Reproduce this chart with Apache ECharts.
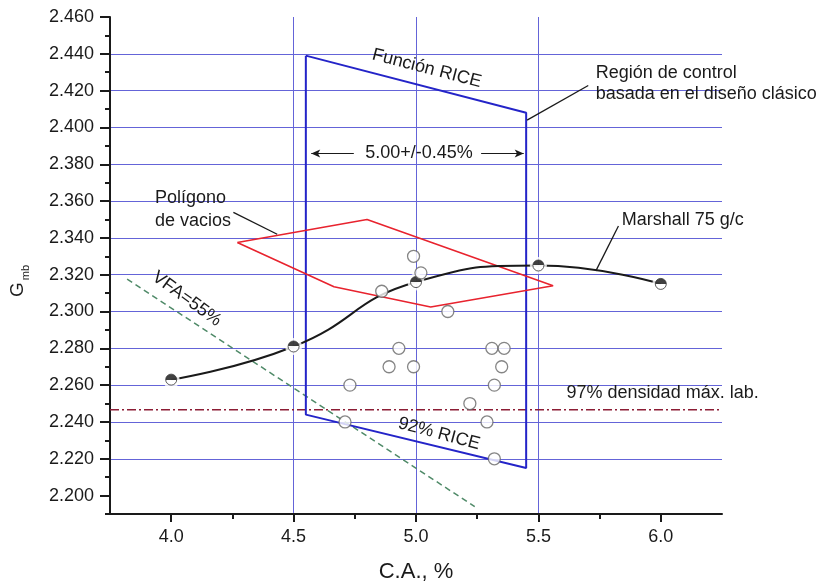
<!DOCTYPE html>
<html>
<head>
<meta charset="utf-8">
<title>Gmb vs C.A.</title>
<script src="https://cdn.jsdelivr.net/npm/echarts@6/dist/echarts.min.js"></script>
<style>
  html, body { margin: 0; padding: 0; background: #fff; }
  #chart { width: 827px; height: 588px; }
</style>
</head>
<body>
<div id="chart"></div>
<script>
// ejes
const xTicks = [4.0, 4.5, 5.0, 5.5, 6.0];
const yTicks = [2.20, 2.22, 2.24, 2.26, 2.28, 2.30, 2.32, 2.34, 2.36, 2.38, 2.40, 2.42, 2.44, 2.46];

// curva Marshall 75 golpes/cara
const marshallCA = [4.0, 4.5, 5.0, 5.5, 6.0];
const marshallGmb = [2.263, 2.281, 2.316, 2.325, 2.315];

// probetas (circulos abiertos)
const probetaCA = [4.99, 5.02, 4.86, 5.13, 4.93, 5.31, 5.36, 4.89, 4.99, 5.35, 4.73, 5.32, 5.22, 4.71, 5.29, 5.32];
const probetaGmb = [2.330, 2.321, 2.311, 2.300, 2.280, 2.280, 2.280, 2.270, 2.270, 2.270, 2.260, 2.260, 2.250, 2.240, 2.240, 2.220];

// region de control RICE (cerrada)
const riceCA = [4.55, 5.45, 5.45, 4.55, 4.55];
const riceGmb = [2.439, 2.408, 2.215, 2.244, 2.439];

// poligono de vacios (cerrado)
const vaciosCA = [4.27, 4.80, 5.56, 5.06, 4.665, 4.27];
const vaciosGmb = [2.3375, 2.350, 2.314, 2.3025, 2.3135, 2.3375];

// VFA = 55%
const vfaCA = [3.82, 5.24];
const vfaGmb = [2.3176, 2.194];

// 97% densidad max. lab.
const dens97CA = [3.75, 6.24];
const dens97Gmb = [2.2466, 2.2466];

const zip = (xs, ys) => xs.map((x, i) => [x, ys[i]]);
const FONT = "'Liberation Sans', Arial, Helvetica, sans-serif";
const INK = '#1a1a1a';

var myChart = echarts.init(document.getElementById('chart'));

const option = {
    animation: false,
    backgroundColor: '#fff',
    grid: { left: 110, right: 105, top: 17, bottom: 73 },
    xAxis: {
        type: 'value',
        min: 3.75,
        max: 6.25,
        name: 'C.A., %',
        nameLocation: 'middle',
        nameGap: 47,
        nameTextStyle: { fontSize: 22, color: INK, fontFamily: FONT },
        axisLine: { show: true, onZero: false, lineStyle: { color: INK, width: 2 } },
        axisTick: { show: true, length: 8, customValues: xTicks, lineStyle: { color: INK, width: 2 } },
        minorTick: { show: true, splitNumber: 2, length: 5, lineStyle: { color: INK, width: 2 } },
        axisLabel: {
            customValues: xTicks,
            margin: 14,
            fontSize: 18,
            color: INK,
            fontFamily: FONT,
            formatter: v => Number(v).toFixed(1)
        },
        splitLine: { show: true, showMinLine: false, showMaxLine: false, lineStyle: { color: '#6464d8', width: 1 } }
    },
    yAxis: {
        type: 'value',
        min: 2.19,
        max: 2.46,
        splitNumber: 13,
        axisLine: { show: true, onZero: false, lineStyle: { color: INK, width: 2 } },
        axisTick: { show: true, length: 10, customValues: yTicks, lineStyle: { color: INK, width: 2 } },
        minorTick: { show: true, splitNumber: 2, length: 5, lineStyle: { color: INK, width: 2 } },
        axisLabel: {
            customValues: yTicks,
            margin: 16,
            fontSize: 18,
            color: INK,
            fontFamily: FONT,
            formatter: v => Number(v).toFixed(3)
        },
        splitLine: { show: true, showMinLine: false, showMaxLine: false, lineStyle: { color: '#6464d8', width: 1 } }
    },
    series: [
        {
            name: 'VFA=55%',
            type: 'line',
            data: zip(vfaCA, vfaGmb),
            symbol: 'none',
            lineStyle: { color: '#4f8a68', width: 1.5, type: [6, 4] },
            z: 2
        },
        {
            name: '97% densidad',
            type: 'line',
            data: zip(dens97CA, dens97Gmb),
            symbol: 'none',
            lineStyle: { color: '#8c1d35', width: 1.6, type: [9, 3, 2, 3] },
            z: 2
        },
        {
            name: 'Función RICE',
            type: 'line',
            data: zip(riceCA, riceGmb),
            symbol: 'none',
            lineStyle: { color: '#2424c8', width: 2 },
            z: 3,
            // flechas del rango 5.00+/-0.45%
            markLine: {
                silent: true,
                animation: false,
                symbol: ['none', 'arrow'],
                symbolSize: [6, 9],
                label: { show: false },
                lineStyle: { color: INK, width: 1.2, type: 'solid' },
                data: [
                    [{ coord: [4.746, 2.3859] }, { coord: [4.572, 2.3859] }],
                    [{ coord: [5.266, 2.3859] }, { coord: [5.44, 2.3859] }]
                ]
            }
        },
        {
            name: 'Polígono de vacios',
            type: 'line',
            data: zip(vaciosCA, vaciosGmb),
            symbol: 'none',
            lineStyle: { color: '#e8232e', width: 1.6 },
            z: 3,
            // lineas guia de las notas
            markLine: {
                silent: true,
                animation: false,
                symbol: ['none', 'none'],
                label: { show: false },
                lineStyle: { color: INK, width: 1.3, type: 'solid' },
                data: [
                    [{ coord: [5.4537, 2.404] }, { coord: [5.7037, 2.4228] }],
                    [{ coord: [4.254, 2.3539] }, { coord: [4.433, 2.342] }],
                    [{ coord: [5.827, 2.3465] }, { coord: [5.7348, 2.3221] }]
                ]
            }
        },
        {
            name: 'Marshall 75 g/c',
            type: 'line',
            data: zip(marshallCA, marshallGmb),
            smooth: 0.5,
            symbol: 'none',
            lineStyle: { color: INK, width: 2 },
            z: 4
        },
        {
            // hueco blanco alrededor de los puntos Marshall
            type: 'scatter',
            data: zip(marshallCA, marshallGmb),
            symbolSize: 17,
            itemStyle: { color: '#fff' },
            silent: true,
            z: 5
        },
        {
            type: 'scatter',
            data: zip(marshallCA, marshallGmb),
            symbolSize: 11,
            itemStyle: {
                color: {
                    type: 'linear', x: 0, y: 0, x2: 0, y2: 1,
                    colorStops: [
                        { offset: 0, color: '#111' },
                        { offset: 0.5, color: '#111' },
                        { offset: 0.5, color: '#fff' },
                        { offset: 1, color: '#fff' }
                    ]
                },
                borderColor: '#333',
                borderWidth: 1
            },
            z: 6
        },
        {
            name: 'Probetas',
            type: 'scatter',
            data: zip(probetaCA, probetaGmb),
            symbolSize: 12,
            itemStyle: { color: '#fff', borderColor: '#666', borderWidth: 1.3 },
            z: 6
        }
    ]
};
myChart.setOption(option);

// notas de texto, ubicadas en coordenadas de datos
const notes = [
    { text: 'Función RICE', at: [5.044, 2.432], rot: -14.5, align: 'center' },
    { text: 'Región de control\nbasada en el diseño clásico', at: [5.734, 2.4236], align: 'left', lh: 21 },
    { text: '5.00+/-0.45%', at: [5.012, 2.3859], align: 'center' },
    { text: 'Polígono\nde vacios', at: [3.934, 2.3553], align: 'left', lh: 23 },
    { text: 'Marshall 75 g/c', at: [5.84, 2.3496], align: 'left' },
    { text: 'VFA=55%', at: [4.064, 2.3068], rot: -36, align: 'center' },
    { text: '97% densidad máx. lab.', at: [5.615, 2.2558], align: 'left' },
    { text: '92% RICE', at: [5.094, 2.2336], rot: -15, align: 'center' }
];

const graphic = notes.map(n => {
    const p = myChart.convertToPixel({ gridIndex: 0 }, n.at);
    return {
        type: 'text',
        x: p[0],
        y: p[1],
        rotation: (n.rot || 0) * Math.PI / 180,
        z: 10,
        style: {
            text: n.text,
            fill: INK,
            fontSize: 18,
            fontFamily: FONT,
            lineHeight: n.lh || 20,
            align: n.align,
            verticalAlign: 'middle'
        }
    };
});

// titulo eje Y: G con subindice mb
graphic.push(
    {
        type: 'text', x: 17.5, y: 289.5, rotation: Math.PI / 2,
        style: { text: 'G', fill: INK, fontSize: 19, fontFamily: FONT, align: 'center', verticalAlign: 'middle' }
    },
    {
        type: 'text', x: 26, y: 272.5, rotation: Math.PI / 2,
        style: { text: 'mb', fill: INK, fontSize: 11, fontFamily: FONT, align: 'center', verticalAlign: 'middle' }
    }
);

myChart.setOption({ graphic: graphic });
</script>
</body>
</html>
